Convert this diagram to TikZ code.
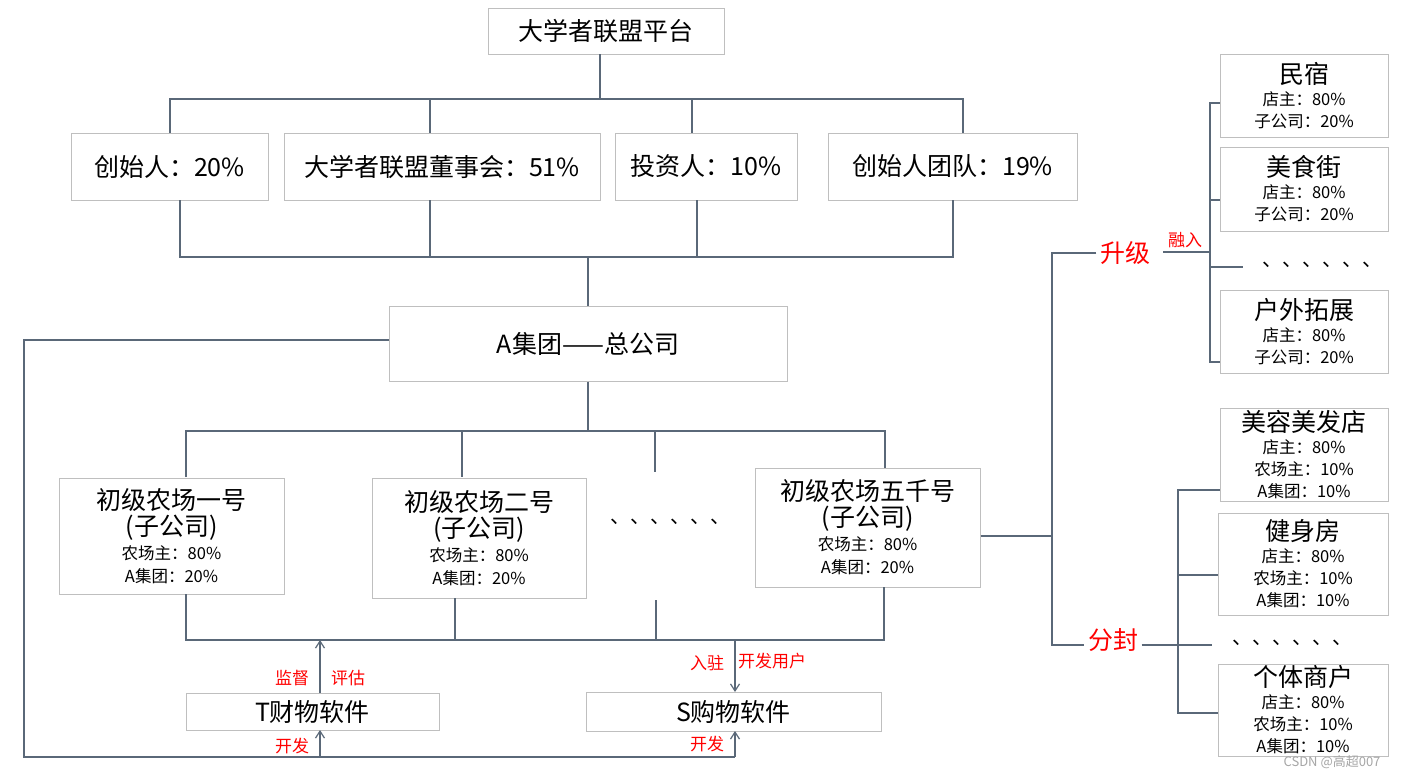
\documentclass[tikz,border=0pt]{standalone}
\usepackage{fontspec}
\setmainfont{Noto Sans CJK SC}
\usetikzlibrary{arrows.meta}
\definecolor{ln}{HTML}{5A6878}
\definecolor{bx}{HTML}{BFBFBF}
\tikzset{
  box/.style={draw=bx,line width=1pt,inner sep=0pt,align=center,font=\fontsize{25}{28}\selectfont},
  ln/.style={draw=ln,line width=1.2pt},
  arr/.style={ln,-{Straight Barb[length=7pt,width=9pt]}},
  red/.style={text=red,font=\fontsize{17}{18}\selectfont},
  big/.style={text=red,font=\fontsize{25}{26}\selectfont},
  dots/.style={font=\fontsize{20}{22}\selectfont}
}
\newcommand{\sm}[1]{{\fontsize{16.5}{18}\selectfont #1}}
\begin{document}
\begin{tikzpicture}[x=1pt,y=-1pt]
\useasboundingbox[fill=white] (0,0) rectangle (1402,779);
% top
\node[box,minimum width=236,minimum height=46] (top) at (606,31) {大学者联盟平台};
\node[box,minimum width=197,minimum height=67] (b1) at (169.5,166.5) {创始人：20\%};
\node[box,minimum width=316,minimum height=67] (b2) at (442,166.5) {大学者联盟董事会：51\%};
\node[box,minimum width=182,minimum height=67] (b3) at (706,166.5) {投资人：10\%};
\node[box,minimum width=249,minimum height=67] (b4) at (952.5,166.5) {创始人团队：19\%};
\draw[ln] (600,54) -- (600,99);
\draw[ln] (170,133) -- (170,99) -- (963,99) -- (963,133);
\draw[ln] (430,99) -- (430,133);
\draw[ln] (692,99) -- (692,133);
\draw[ln] (180,200) -- (180,257) -- (953,257) -- (953,200);
\draw[ln] (430,200) -- (430,257);
\draw[ln] (697,200) -- (697,257);
\node[box,minimum width=398,minimum height=75] (A) at (588,343.5) {A集团——总公司};
\draw[ln] (588,257) -- (A.north);
% farms
\draw[ln] (A.south) -- (588,431);
\draw[ln] (186,477) -- (186,431) -- (885,431) -- (885,468);
\draw[ln] (462,431) -- (462,477);
\draw[ln] (655,431) -- (655,472);
\node[box,minimum width=225,minimum height=116] (f1) at (171.5,536) {初级农场一号\\[-2pt](子公司)\\[-4pt]\sm{农场主：80\%}\\[-5pt]\sm{A集团：20\%}};
\node[box,minimum width=214,minimum height=120] (f2) at (479,538) {初级农场二号\\[-2pt](子公司)\\[-4pt]\sm{农场主：80\%}\\[-5pt]\sm{A集团：20\%}};
\node[dots] (fd) at (670,522) {、、、、、、};
\node[box,minimum width=225,minimum height=119] (f5) at (867.5,527.5) {初级农场五千号\\[-2pt](子公司)\\[-4pt]\sm{农场主：80\%}\\[-5pt]\sm{A集团：20\%}};
\draw[ln] (186,594) -- (186,640) -- (884,640) -- (884,587);
\draw[ln] (455,598) -- (455,640);
\draw[ln] (656,600) -- (656,640);
% software
\node[box,minimum width=253,minimum height=37] (T) at (312.5,711.5) {T财物软件};
\node[box,minimum width=295,minimum height=39] (S) at (733.5,711.5) {S购物软件};
\coordinate (tu) at (320,640);
\coordinate (su) at (735,640);
\draw[arr] (320,693) -- (tu);
\draw[arr] (su) -- (735,692);
\node[red] (l1) at (292,678) {监督};
\node[red] (l2) at (348,678) {评估};
\node[red] (l3) at (707,663) {入驻};
\node[red] (l4) at (772,661) {开发用户};
\coordinate (c1) at (24,340);
\coordinate (c2) at (24,757);
\draw[ln] (389,340) -- (c1) -- (c2) -- (735,757);
\draw[arr] (320,757) -- (320,730);
\draw[arr] (735,757) -- (735,731);
\node[red] (l5) at (292,746) {开发};
\node[red] (l6) at (707,744) {开发};
% right
\node[big] (up) at (1125,253) {升级};
\node[big] (fen) at (1113,640) {分封};
\draw[ln] (f5.east |- 536,536) -- (1052,536);
\draw[ln] (up.west) -- (1052,253) -- (1052,645) -- (fen.west |- 645,645);
\node[red] (rr) at (1185,240) {融入};
\draw[ln] (1163,252) -- (1210,252);
\draw[ln] (1220,103) -- (1210,103) -- (1210,362) -- (1220,362);
\draw[ln] (1210,200) -- (1220,200);
\draw[ln] (1210,267) -- (1243,267);
\node[box,minimum width=168,minimum height=83] (r1) at (1304,95.5) {民宿\\[-6pt]\sm{店主：80\%}\\[-6pt]\sm{子公司：20\%}};
\node[box,minimum width=168,minimum height=84] (r2) at (1304,189) {美食街\\[-6pt]\sm{店主：80\%}\\[-6pt]\sm{子公司：20\%}};
\node[dots] (rd) at (1322,265) {、、、、、、};
\node[box,minimum width=168,minimum height=83] (r3) at (1304,331.5) {户外拓展\\[-6pt]\sm{店主：80\%}\\[-6pt]\sm{子公司：20\%}};
\draw[ln] (fen.east |- 645,645) -- (1178,645);
\draw[ln] (1220,490) -- (1178,490) -- (1178,713) -- (1218,713);
\draw[ln] (1178,575) -- (1218,575);
\draw[ln] (1178,645) -- (1212,645);
\node[box,minimum width=168,minimum height=93] (s1) at (1304,454.5) {美容美发店\\[-6pt]\sm{店主：80\%}\\[-6pt]\sm{农场主：10\%}\\[-6pt]\sm{A集团：10\%}};
\node[box,minimum width=170,minimum height=102] (s2) at (1303,564) {健身房\\[-6pt]\sm{店主：80\%}\\[-6pt]\sm{农场主：10\%}\\[-6pt]\sm{A集团：10\%}};
\node[dots] (sd) at (1292,643) {、、、、、、};
\node[box,minimum width=170,minimum height=92] (s3) at (1303,710) {个体商户\\[-6pt]\sm{店主：80\%}\\[-6pt]\sm{农场主：10\%}\\[-6pt]\sm{A集团：10\%}};
\node[text=gray!70,font=\fontsize{13}{14}\selectfont] (wm) at (1332,762) {CSDN @高超007};
\end{tikzpicture}
\end{document}
